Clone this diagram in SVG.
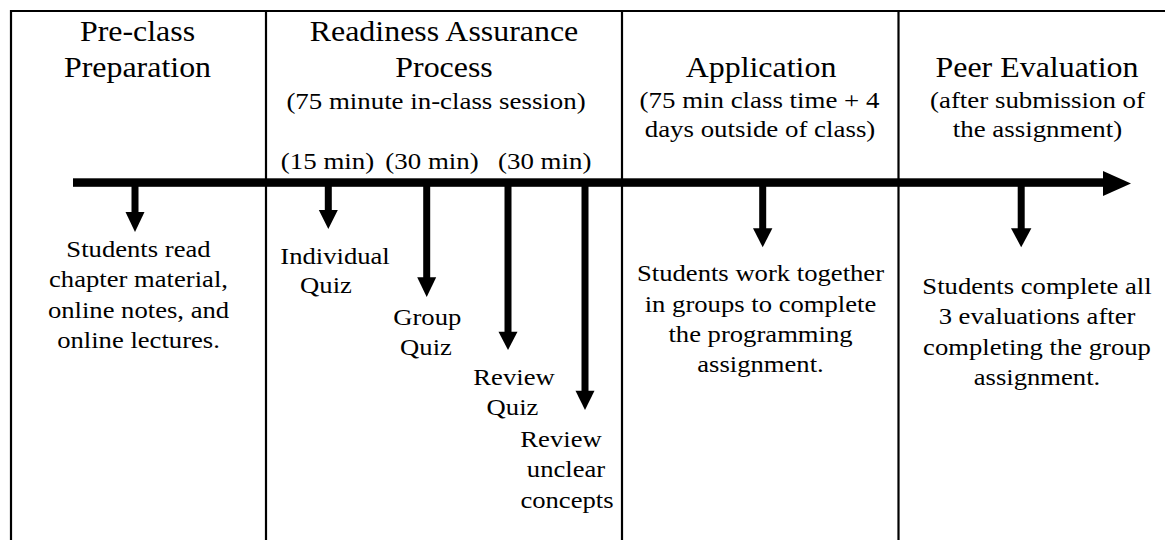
<svg xmlns="http://www.w3.org/2000/svg" width="1165" height="540" viewBox="0 0 1165 540">
<style>
text{font-family:"Liberation Serif","Times New Roman",serif;fill:#000;text-anchor:middle}
.h{font-size:28.5px}
.s{font-size:24px}
.b{font-size:23.8px}
.frame{stroke:#000;stroke-width:2.2;fill:none}
.shaft{stroke:#000;stroke-width:7;fill:none}
.head{fill:#000}
</style>
<rect width="1165" height="540" fill="#fff"/>
<g id="frame">
<path class="frame" d="M11 11H1165M11 10V540M266 11V540M622 11V540M898.5 11V540"/>
</g>
<g id="connectors">
<rect x="73" y="178.3" width="1032" height="8.5" fill="#000"/>
<polygon class="head" points="1103,171 1131,183.5 1103,196"/>
<line class="shaft" x1="135" y1="186" x2="135" y2="214"/>
<polygon class="head" points="125.5,212 144.5,212 135,232"/>
<line class="shaft" x1="328.3" y1="186" x2="328.3" y2="212"/>
<polygon class="head" points="318.8,210 337.8,210 328.3,229"/>
<line class="shaft" x1="426.7" y1="186" x2="426.7" y2="279"/>
<polygon class="head" points="417.2,277.3 436.2,277.3 426.7,297"/>
<line class="shaft" x1="508" y1="186" x2="508" y2="333"/>
<polygon class="head" points="498.5,331.7 517.5,331.7 508,350"/>
<line class="shaft" x1="585" y1="186" x2="585" y2="392"/>
<polygon class="head" points="575.5,390.7 594.5,390.7 585,410"/>
<line class="shaft" x1="762.7" y1="186" x2="762.7" y2="230"/>
<polygon class="head" points="753,228.3 772.4,228.3 762.7,247.3"/>
<line class="shaft" x1="1021.2" y1="186" x2="1021.2" y2="230"/>
<polygon class="head" points="1011,228.3 1031.4,228.3 1021.2,247.3"/>
</g>
<g id="preclass">
<text class="h" transform="translate(137.5 0) scale(1.12 1)" y="41.5">Pre-class</text>
<text class="h" transform="translate(137.5 0) scale(1.12 1)" y="77">Preparation</text>
</g>
<g id="preclass-desc">
<text class="b" transform="translate(138.5 0) scale(1.12 1)" y="257">Students read</text>
<text class="b" transform="translate(138.5 0) scale(1.12 1)" y="287.5">chapter material,</text>
<text class="b" transform="translate(138.5 0) scale(1.12 1)" y="318">online notes, and</text>
<text class="b" transform="translate(138.5 0) scale(1.12 1)" y="348">online lectures.</text>
</g>
<g id="rap">
<text class="h" transform="translate(444 0) scale(1.12 1)" y="41.5">Readiness Assurance</text>
<text class="h" transform="translate(444 0) scale(1.12 1)" y="77">Process</text>
<text class="s" transform="translate(436 0) scale(1.12 1)" y="109">(75 minute in-class session)</text>
</g>
<g id="durations">
<text class="s" transform="translate(327.5 0) scale(1.12 1)" y="169.5">(15 min)</text>
<text class="s" transform="translate(432 0) scale(1.12 1)" y="169.5">(30 min)</text>
<text class="s" transform="translate(544.7 0) scale(1.12 1)" y="169.5">(30 min)</text>
</g>
<g id="individual-quiz">
<text class="b" transform="translate(335 0) scale(1.12 1)" y="264">Individual</text>
<text class="b" transform="translate(326 0) scale(1.12 1)" y="293.5">Quiz</text>
</g>
<g id="group-quiz">
<text class="b" transform="translate(427.3 0) scale(1.12 1)" y="325">Group</text>
<text class="b" transform="translate(426 0) scale(1.12 1)" y="355">Quiz</text>
</g>
<g id="review-quiz">
<text class="b" transform="translate(514 0) scale(1.12 1)" y="385">Review</text>
<text class="b" transform="translate(512.5 0) scale(1.12 1)" y="415.5">Quiz</text>
</g>
<g id="review-concepts">
<text class="b" transform="translate(561 0) scale(1.12 1)" y="447.3">Review</text>
<text class="b" transform="translate(566 0) scale(1.12 1)" y="477.3">unclear</text>
<text class="b" transform="translate(567 0) scale(1.12 1)" y="508">concepts</text>
</g>
<g id="application">
<text class="h" transform="translate(761 0) scale(1.12 1)" y="77">Application</text>
<text class="s" transform="translate(759.5 0) scale(1.12 1)" y="108.5">(75 min class time + 4</text>
<text class="s" transform="translate(760 0) scale(1.12 1)" y="137.5">days outside of class)</text>
</g>
<g id="application-desc">
<text class="b" transform="translate(760.5 0) scale(1.12 1)" y="281">Students work together</text>
<text class="b" transform="translate(760.5 0) scale(1.12 1)" y="311.7">in groups to complete</text>
<text class="b" transform="translate(760.5 0) scale(1.12 1)" y="341.7">the programming</text>
<text class="b" transform="translate(760.5 0) scale(1.12 1)" y="371.7">assignment.</text>
</g>
<g id="peer">
<text class="h" transform="translate(1037 0) scale(1.12 1)" y="77">Peer Evaluation</text>
<text class="s" transform="translate(1037.5 0) scale(1.12 1)" y="108">(after submission of</text>
<text class="s" transform="translate(1037.5 0) scale(1.12 1)" y="137">the assignment)</text>
</g>
<g id="peer-desc">
<text class="b" transform="translate(1037 0) scale(1.12 1)" y="294">Students complete all</text>
<text class="b" transform="translate(1037 0) scale(1.12 1)" y="324.3">3 evaluations after</text>
<text class="b" transform="translate(1037 0) scale(1.12 1)" y="355">completing the group</text>
<text class="b" transform="translate(1037 0) scale(1.12 1)" y="385">assignment.</text>
</g>
</svg>
